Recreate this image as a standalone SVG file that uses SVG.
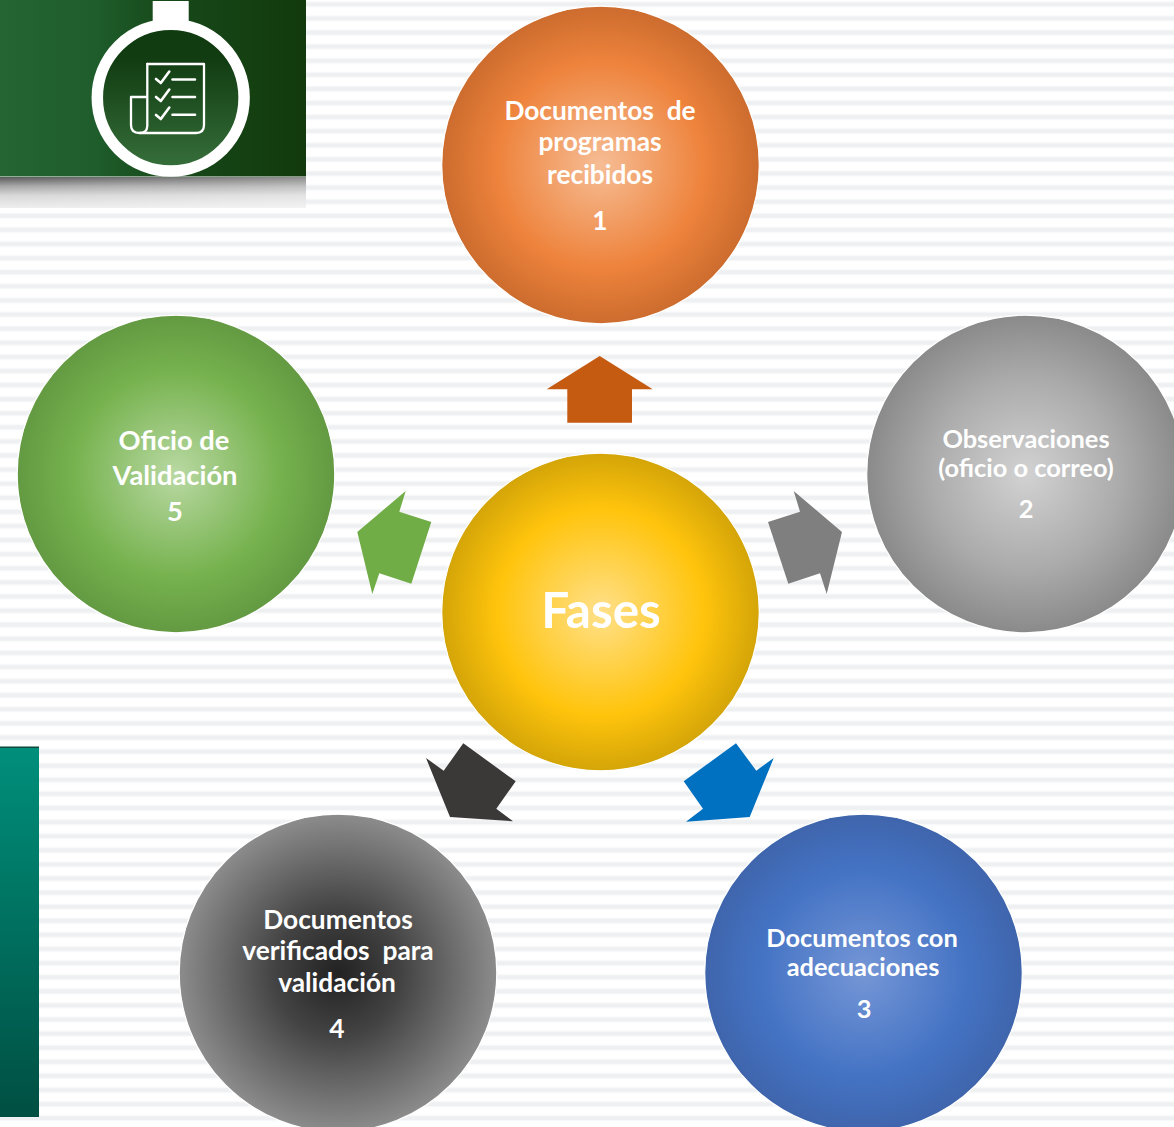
<svg xmlns="http://www.w3.org/2000/svg" width="1174" height="1127" viewBox="0 0 1174 1127">
<style>
text{font-family:Lato,"Liberation Sans",sans-serif;font-weight:700;fill:#fff;text-anchor:middle}
.t{font-size:26.300px}
.s{font-size:25.400px}
.l{font-size:27.300px}
.c{stroke:#fff;stroke-width:1.2}
</style>
<defs>
<pattern id="stripes" patternUnits="userSpaceOnUse" width="20" height="14.1" y="4.3">
<rect width="20" height="14.1" fill="#fff"/>
<rect y="-2" width="20" height="4" fill="#eef0f2"/>
<rect y="12.1" width="20" height="4" fill="#eef0f2"/>
<rect y="2" width="20" height="1" fill="#f7f8f9"/>
<rect y="11.1" width="20" height="1" fill="#f7f8f9"/>
</pattern>
<linearGradient id="head" x1="0" x2="1" y1="0" y2="0">
<stop offset="0" stop-color="#246533"/><stop offset=".3" stop-color="#1f5e2c"/><stop offset=".55" stop-color="#17481a"/><stop offset="1" stop-color="#123a0c"/>
</linearGradient>
<linearGradient id="shadow" x1="0" x2="0" y1="0" y2="1">
<stop offset="0" stop-color="#5a5a5a"/><stop offset=".3" stop-color="#a8a8a8"/><stop offset=".6" stop-color="#d8d8d8"/><stop offset="1" stop-color="#eeeeee"/>
</linearGradient>
<linearGradient id="shadowFade" x1="0" x2="1" y1="0" y2="0">
<stop offset="0" stop-color="#fff" stop-opacity="0"/><stop offset="1" stop-color="#fff" stop-opacity=".3"/>
</linearGradient>
<linearGradient id="inner" x1="0" x2="0" y1="0" y2="1">
<stop offset="0" stop-color="#0f3a10"/><stop offset=".25" stop-color="#123d12"/><stop offset="1" stop-color="#37703c"/>
</linearGradient>
<linearGradient id="teal" x1="0" x2="0" y1="0" y2="1">
<stop offset="0" stop-color="#008f7b"/><stop offset="1" stop-color="#004f42"/>
</linearGradient>
<radialGradient id="gY">
<stop offset="0" stop-color="#ffe08a"/><stop offset=".65" stop-color="#ffc40c"/><stop offset="1" stop-color="#d4a508"/>
</radialGradient>
<radialGradient id="gO">
<stop offset="0" stop-color="#f6bd95"/><stop offset=".65" stop-color="#ee833c"/><stop offset="1" stop-color="#cc6c2e"/>
</radialGradient>
<radialGradient id="gS">
<stop offset="0" stop-color="#d2d2d2"/><stop offset=".6" stop-color="#ababab"/><stop offset="1" stop-color="#8a8a8a"/>
</radialGradient>
<radialGradient id="gB">
<stop offset="0" stop-color="#7596d6"/><stop offset=".65" stop-color="#4473c4"/><stop offset="1" stop-color="#3f65ac"/>
</radialGradient>
<radialGradient id="gK">
<stop offset="0" stop-color="#222222"/><stop offset=".4" stop-color="#434343"/><stop offset="1" stop-color="#8c8c8c"/>
</radialGradient>
<radialGradient id="gG">
<stop offset="0" stop-color="#b9d9a3"/><stop offset=".65" stop-color="#76b24e"/><stop offset="1" stop-color="#639a42"/>
</radialGradient>
</defs>

<rect id="background" width="1174" height="1127" fill="url(#stripes)"/>

<g id="header">
<rect y="177" width="306" height="31" fill="url(#shadow)"/>
<rect y="177" width="306" height="31" fill="url(#shadowFade)"/>
<rect width="306" height="176.5" fill="url(#head)"/>
<rect x="152.7" y="1" width="36" height="24" fill="#fff"/>
<circle cx="170.7" cy="97.7" r="73.4" fill="url(#inner)" stroke="#fff" stroke-width="11.5"/>
<g fill="none" stroke="#fff" stroke-width="2.3" stroke-linecap="round" stroke-linejoin="round">
<path d="M147.3 64H204V125Q204 133 196 133H140"/>
<path d="M147.3 64V126Q147 133 139.500 133Q131 133 131 125V97H147"/>
<g stroke-width="2.6">
<path d="M156 79L160.800 83L169.300 71.500M172.500 79.500H195"/>
<path d="M156 97L160.800 101L169.300 89.500M172.500 97H195"/>
<path d="M156 115L160.800 119L169.300 107.500M172.500 114.700H195"/>
</g>
</g>
</g>

<g id="side-panel">
<rect y="746.500" width="39" height="3" fill="#0c4a3e"/>
<rect y="748" width="39" height="369" fill="url(#teal)"/>
</g>

<g id="connectors">
<polygon fill="#c55a11" points="599.700,356 652.700,389.300 632,389.300 632,422.700 567.300,422.700 567.300,389.300 546.700,389.300"/>
<polygon fill="#7f7f7f" points="793.700,491 842,532 826.700,594 820,573.300 788.300,583.700 768,522 800,511.700"/>
<polygon fill="#0070c0" points="736,743.300 756.300,770.700 773.700,758 749.700,817 686,821.700 703,808.700 683.700,781.300"/>
<polygon fill="#3b3838" points="463.300,743.300 443.700,770.700 426,758 450,817 513,821.300 496.300,808.700 515.700,781.300"/>
<polygon fill="#70ad47" points="405.700,491 357.300,532 372.300,594 379.300,573.300 411.300,583.700 431.300,522 399.300,511.700"/>
</g>

<g id="node-fases">
<circle class="c" cx="600.500" cy="612" r="158.800" fill="url(#gY)"/>
<text x="601" y="628" style="font-size:49.500px">Fases</text>
</g>
<g id="node-1">
<circle class="c" cx="600.500" cy="165" r="158.800" fill="url(#gO)"/>
<text class="t" x="600" y="119.500" xml:space="preserve">Documentos  de</text>
<text class="t" x="600" y="151">programas</text>
<text class="t" x="600" y="183.500">recibidos</text>
<text class="t" x="600" y="229.500">1</text>
</g>
<g id="node-2">
<circle class="c" cx="1025.500" cy="474" r="158.800" fill="url(#gS)"/>
<text class="s" x="1026" y="447.500">Observaciones</text>
<text class="s" x="1026" y="476.500">(oficio o correo)</text>
<text class="s" x="1026" y="517.500">2</text>
</g>
<g id="node-3">
<circle class="c" cx="863.500" cy="973" r="158.800" fill="url(#gB)"/>
<text class="s" x="862" y="946.500">Documentos con</text>
<text class="s" x="863" y="975.500">adecuaciones</text>
<text class="s" x="864" y="1017.500">3</text>
</g>
<g id="node-4">
<circle class="c" cx="338" cy="973" r="158.800" fill="url(#gK)"/>
<text class="t" x="338" y="928.500">Documentos</text>
<text class="t" x="338" y="959.500" xml:space="preserve">verificados  para</text>
<text class="t" x="337" y="991.500">validación</text>
<text class="t" x="337" y="1037.500">4</text>
</g>
<g id="node-5">
<circle class="c" cx="176" cy="474" r="158.800" fill="url(#gG)"/>
<text class="l" x="174" y="449.500">Oficio de</text>
<text class="l" x="175" y="484.500">Validación</text>
<text class="l" x="175" y="520.500">5</text>
</g>
</svg>
